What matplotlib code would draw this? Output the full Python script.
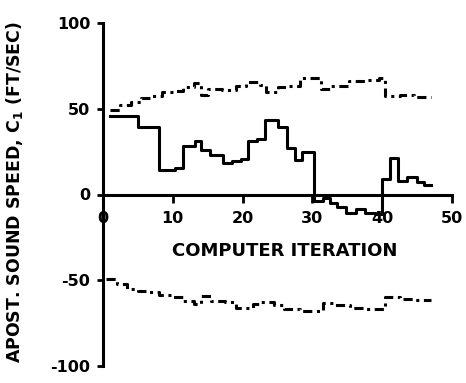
import numpy as np
import matplotlib
matplotlib.use("Agg")
import matplotlib.pyplot as plt

plt.rcParams['font.family'] = ['DejaVu Sans']
plt.rcParams['font.weight'] = 'bold'
plt.rcParams['axes.unicode_minus'] = False

# Solid curve: a-posteriori sound speed (step starts and values)
solid_x = [1, 5, 8, 10.3, 11.4, 13.2, 14.1, 15.3, 17.2, 18.5, 19.7, 20.8, 22, 23.2,
           25, 26.3, 27.5, 28.5, 30.2, 31.5, 32.5, 33.5, 34.8, 36.2, 37.5, 39, 40,
           41.1, 42.3, 43.5, 45, 46]
solid_y = [46, 39.5, 14.5, 15.5, 28, 31, 26, 23, 18.5, 19.5, 20.5, 31, 32.5, 43.5,
           39.5, 27, 20, 24.5, -4, -2, -5, -7, -10.5, -8.5, -11, -11.5, 9,
           21, 8, 10, 7, 5.5]

# Upper dashed bound
upper_x = [1, 2.5, 4, 5.5, 7, 8.5, 10, 11.5, 13, 14, 15, 17, 19, 20.5, 22.5, 23.4,
           25, 26.5, 28.2, 31.2, 32.5, 35.2, 37.5, 39.5, 40.4, 42.5, 44.5]
upper_y = [49, 52, 54, 56, 57.5, 59.5, 60.5, 62.5, 65, 58, 61.5, 61, 63, 65.5, 64, 60,
           62.5, 63.5, 68, 61.5, 63, 66, 66.5, 68, 57.5, 58, 57]

# Lower dashed bound
lower_x = [0.5, 2, 3.5, 5, 6.5, 8, 10, 11.5, 13, 14, 15.5, 17.5, 19, 21.5, 22.5,
           24.5, 26, 28.2, 31.5, 33, 35.4, 37.5, 39.5, 40.4, 42.5, 44.5]
lower_y = [-49, -52, -55, -56, -57, -58.5, -60, -62, -64, -59, -62, -62.5, -66, -64,
           -62.5, -64.5, -66.5, -68, -63.5, -64.5, -66, -67, -66.5, -60, -61, -61.5]

x_end = 47
xticks = [0, 10, 20, 30, 40, 50]
yticks = [-100, -50, 0, 50, 100]

fig = plt.figure(figsize=(4.66, 3.83), dpi=100)
ax = fig.add_axes([103 / 466, 1 - 366 / 383, 349 / 466, 343 / 383])


def stepline(xs, ys, **kw):
    ax.step(xs + [x_end], ys + [ys[-1]], where='post', color='black', **kw)


stepline(solid_x, solid_y, lw=2.2)
stepline(upper_x, upper_y, lw=2.2, linestyle=(0, (3, 1.5, 1, 1.5)))
stepline(lower_x, lower_y, lw=2.2, linestyle=(0, (3, 1.5, 1, 1.5)))

ax.set_xlim(0, 50)
ax.set_ylim(-100, 100)
ax.spines['left'].set_position(('data', 0))
ax.spines['bottom'].set_position(('data', 0))
ax.spines['top'].set_visible(False)
ax.spines['right'].set_visible(False)
for s in ['left', 'bottom']:
    ax.spines[s].set_linewidth(2.2)

ax.set_xticks(xticks)
ax.set_yticks(yticks)
ax.tick_params(axis='x', direction='out', length=6, width=2, pad=6, labelsize=11.5)
ax.tick_params(axis='y', direction='out', length=4, width=2, pad=5, labelsize=11.5)
for lab in ax.get_xticklabels() + ax.get_yticklabels():
    lab.set_fontweight('bold')

ax.text(26, -33, 'COMPUTER ITERATION', ha='center', va='center',
        fontsize=13, fontweight='bold')
fig.text(15 / 466, 1 - 192 / 383, 'APOST. SOUND SPEED, C$_1$ (FT/SEC)',
         rotation=90, ha='center', va='center', fontsize=12.5, fontweight='bold')

fig.savefig('out.png', dpi=100)
